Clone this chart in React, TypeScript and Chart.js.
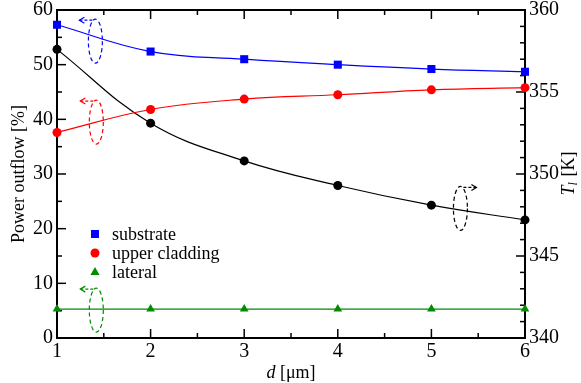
import React, { useEffect, useRef } from "react";
import { Chart, registerables } from "chart.js";

Chart.register(...registerables);

const FONT = "'Liberation Serif', 'Times New Roman', serif";

// ---- data ----
const dValues = [1, 2, 3, 4, 5, 6];
const substrate = [57.3, 52.4, 51.0, 50.0, 49.2, 48.7];
const upperCladding = [37.6, 41.8, 43.7, 44.5, 45.4, 45.8];
const lateral = [5.3, 5.3, 5.3, 5.3, 5.3, 5.3];
const temperature = [357.6, 353.1, 350.8, 349.3, 348.1, 347.2];

// ---- ticks ----
const xMajor = [1, 2, 3, 4, 5, 6];
const xMinor = [1.5, 2.5, 3.5, 4.5, 5.5];
const yMajor = [0, 10, 20, 30, 40, 50, 60];
const yMinor = [5, 15, 25, 35, 45, 55];
const y2Major = [340, 345, 350, 355, 360];
const y2Minor = [341, 342, 343, 344, 346, 347, 348, 349, 351, 352, 353, 354, 356, 357, 358, 359];

const BLUE = "#0000ff";
const RED = "#ff0000";
const GREEN = "rgb(0,139,0)";
const BLACK = "#000000";

const legendItems = [
  { label: "substrate", color: BLUE, shape: "rect" },
  { label: "upper cladding", color: RED, shape: "circle" },
  { label: "lateral", color: GREEN, shape: "triangle" },
];

// annotation ellipses (centre in data units)
const annotations = [
  { color: BLUE, axis: "y", x: 1.41, y: 54.3, dir: -1 },
  { color: RED, axis: "y", x: 1.42, y: 39.5, dir: -1 },
  { color: GREEN, axis: "y", x: 1.42, y: 5.1, dir: -1 },
  { color: BLACK, axis: "y2", x: 5.31, y: 347.9, dir: 1 },
];

const pts = (ys: number[]) => dValues.map((d, i) => ({ x: d, y: ys[i] }));

function drawMarker(ctx: CanvasRenderingContext2D, shape: string, x: number, y: number, color: string) {
  ctx.fillStyle = color;
  ctx.beginPath();
  if (shape === "rect") {
    ctx.rect(x - 4, y - 4, 8, 8);
  } else if (shape === "circle") {
    ctx.arc(x, y, 4.5, 0, Math.PI * 2);
  } else {
    ctx.moveTo(x, y - 5);
    ctx.lineTo(x + 4.6, y + 3);
    ctx.lineTo(x - 4.6, y + 3);
    ctx.closePath();
  }
  ctx.fill();
}

const framePlugin = {
  id: "frame",
  beforeDatasetsDraw(chart: any) {
    const { ctx, chartArea, scales } = chart;
    const { left, right, top, bottom } = chartArea;
    ctx.save();
    ctx.strokeStyle = "#000";
    const line = (x1: number, y1: number, x2: number, y2: number) => {
      ctx.beginPath();
      ctx.moveTo(x1, y1);
      ctx.lineTo(x2, y2);
      ctx.stroke();
    };
    ctx.lineWidth = 1.5;
    for (const v of xMajor) {
      const p = scales.x.getPixelForValue(v);
      line(p, bottom, p, bottom - 9);
      line(p, top, p, top + 9);
    }
    for (const v of xMinor) {
      const p = scales.x.getPixelForValue(v);
      line(p, bottom, p, bottom - 5);
      line(p, top, p, top + 5);
    }
    for (const v of yMajor) {
      const p = scales.y.getPixelForValue(v);
      line(left, p, left + 9, p);
    }
    for (const v of yMinor) {
      const p = scales.y.getPixelForValue(v);
      line(left, p, left + 5, p);
    }
    for (const v of y2Major) {
      const p = scales.y2.getPixelForValue(v);
      line(right, p, right - 9, p);
    }
    for (const v of y2Minor) {
      const p = scales.y2.getPixelForValue(v);
      line(right, p, right - 5, p);
    }
    ctx.lineWidth = 2;
    ctx.strokeRect(left, top, right - left, bottom - top);
    ctx.restore();
  },
  afterDatasetsDraw(chart: any) {
    const { ctx, scales } = chart;
    ctx.save();
    for (const a of annotations) {
      const cx = scales.x.getPixelForValue(a.x);
      const cy = scales[a.axis].getPixelForValue(a.y);
      ctx.strokeStyle = a.color;
      ctx.lineWidth = 1.2;
      ctx.setLineDash([4, 3]);
      ctx.beginPath();
      ctx.ellipse(cx, cy, 7, 22, 0, 0, Math.PI * 2);
      ctx.stroke();
      // arrow
      const ay = cy - 21;
      const x0 = cx + a.dir * 3;
      const x1 = cx + a.dir * 16;
      ctx.setLineDash([3, 2]);
      ctx.beginPath();
      ctx.moveTo(x0, ay);
      ctx.lineTo(x1, ay);
      ctx.stroke();
      ctx.setLineDash([]);
      ctx.beginPath();
      ctx.moveTo(x1 - a.dir * 5, ay - 3);
      ctx.lineTo(x1, ay);
      ctx.lineTo(x1 - a.dir * 5, ay + 3);
      ctx.stroke();
    }
    ctx.restore();
  },
  afterDraw(chart: any) {
    const { ctx, chartArea } = chart;
    const { left, right, top, bottom } = chartArea;
    ctx.save();
    // legend
    ctx.font = `18px ${FONT}`;
    ctx.textBaseline = "middle";
    ctx.textAlign = "left";
    legendItems.forEach((it, i) => {
      const y = top + 224 + i * 19;
      drawMarker(ctx, it.shape, left + 38, y, it.color);
      ctx.fillStyle = "#000";
      ctx.fillText(it.label, left + 55, y + 1);
    });

    // left title
    ctx.save();
    ctx.translate(19, (top + bottom) / 2);
    ctx.rotate(-Math.PI / 2);
    ctx.textAlign = "center";
    ctx.textBaseline = "middle";
    ctx.fillStyle = "#000";
    ctx.font = `18px ${FONT}`;
    ctx.fillText("Power outflow [%]", 0, 0);
    ctx.restore();

    // x title: d [μm]
    {
      const italic = `italic 18px ${FONT}`;
      const normal = `18px ${FONT}`;
      ctx.font = italic;
      const w1 = ctx.measureText("d").width;
      ctx.font = normal;
      const w2 = ctx.measureText(" [μm]").width;
      const x0 = (left + right) / 2 - (w1 + w2) / 2;
      const y = 373;
      ctx.textAlign = "left";
      ctx.textBaseline = "middle";
      ctx.fillStyle = "#000";
      ctx.font = italic;
      ctx.fillText("d", x0, y);
      ctx.font = normal;
      ctx.fillText(" [μm]", x0 + w1, y);
    }

    // right title: T_l [K]
    {
      ctx.save();
      ctx.translate(569, (top + bottom) / 2);
      ctx.rotate(-Math.PI / 2);
      const italic = `italic 18px ${FONT}`;
      const sub = `italic 12px ${FONT}`;
      const normal = `18px ${FONT}`;
      ctx.font = italic;
      const wT = ctx.measureText("T").width;
      ctx.font = sub;
      const wl = ctx.measureText("l").width;
      ctx.font = normal;
      const wK = ctx.measureText(" [K]").width;
      let x = -(wT + wl + wK) / 2;
      ctx.textAlign = "left";
      ctx.textBaseline = "middle";
      ctx.fillStyle = "#000";
      ctx.font = italic;
      ctx.fillText("T", x, 0);
      x += wT;
      ctx.font = sub;
      ctx.fillText("l", x, 5);
      x += wl + 1;
      ctx.font = normal;
      ctx.fillText(" [K]", x, 0);
      ctx.restore();
    }
    ctx.restore();
  },
};

export default function App() {
  const ref = useRef<HTMLCanvasElement | null>(null);
  useEffect(() => {
    if (!ref.current) return;
    const tickFont = { family: FONT, size: 20, lineHeight: 1 };
    const common = {
      borderWidth: 1.2,
      pointBorderWidth: 0,
      tension: 0.4,
      clip: false,
    };
    const chart = new Chart(ref.current, {
      type: "line",
      data: {
        datasets: [
          {
            ...common,
            label: "substrate",
            data: pts(substrate),
            borderColor: BLUE,
            backgroundColor: BLUE,
            pointStyle: "rect",
            pointRadius: 5.7,
            yAxisID: "y",
          },
          {
            ...common,
            label: "upper cladding",
            data: pts(upperCladding),
            borderColor: RED,
            backgroundColor: RED,
            pointStyle: "circle",
            pointRadius: 4.5,
            yAxisID: "y",
          },
          {
            ...common,
            label: "lateral",
            data: pts(lateral),
            borderColor: GREEN,
            backgroundColor: GREEN,
            pointStyle: "triangle",
            pointRadius: 5,
            yAxisID: "y",
          },
          {
            ...common,
            label: "temperature",
            data: pts(temperature),
            borderColor: BLACK,
            backgroundColor: BLACK,
            pointStyle: "circle",
            pointRadius: 4.5,
            yAxisID: "y2",
          },
        ],
      },
      options: {
        responsive: false,
        animation: false,
        devicePixelRatio: 1,
        layout: { padding: { top: 10, left: 0, right: 0, bottom: 0 } },
        plugins: { legend: { display: false }, tooltip: { enabled: false } },
        scales: {
          x: {
            type: "linear",
            min: 1,
            max: 6,
            afterBuildTicks: (s: any) => {
              s.ticks = xMajor.map((v) => ({ value: v }));
            },
            ticks: { font: tickFont, color: "#000", padding: 4, autoSkip: false, maxRotation: 0 },
            grid: { display: false, drawTicks: false },
            border: { display: false },
            afterFit: (s: any) => {
              s.height = 45;
              s.paddingLeft = 0;
              s.paddingRight = 0;
            },
          },
          y: {
            type: "linear",
            position: "left",
            min: 0,
            max: 60,
            afterBuildTicks: (s: any) => {
              s.ticks = yMajor.map((v) => ({ value: v }));
            },
            ticks: { font: tickFont, color: "#000", padding: 4 },
            grid: { display: false, drawTicks: false },
            border: { display: false },
            afterFit: (s: any) => {
              s.width = 57;
              s.paddingTop = 0;
              s.paddingBottom = 0;
            },
          },
          y2: {
            type: "linear",
            position: "right",
            min: 340,
            max: 360,
            afterBuildTicks: (s: any) => {
              s.ticks = y2Major.map((v) => ({ value: v }));
            },
            ticks: { font: tickFont, color: "#000", padding: 4 },
            grid: { display: false, drawTicks: false },
            border: { display: false },
            afterFit: (s: any) => {
              s.width = 56;
              s.paddingTop = 0;
              s.paddingBottom = 0;
            },
          },
        },
      },
      plugins: [framePlugin],
    } as any);
    return () => chart.destroy();
  }, []);
  return (
    <div style={{ position: "fixed", left: 0, top: 0, width: 581, height: 383, background: "#fff" }}>
      <canvas ref={ref} width={581} height={383} />
    </div>
  );
}
